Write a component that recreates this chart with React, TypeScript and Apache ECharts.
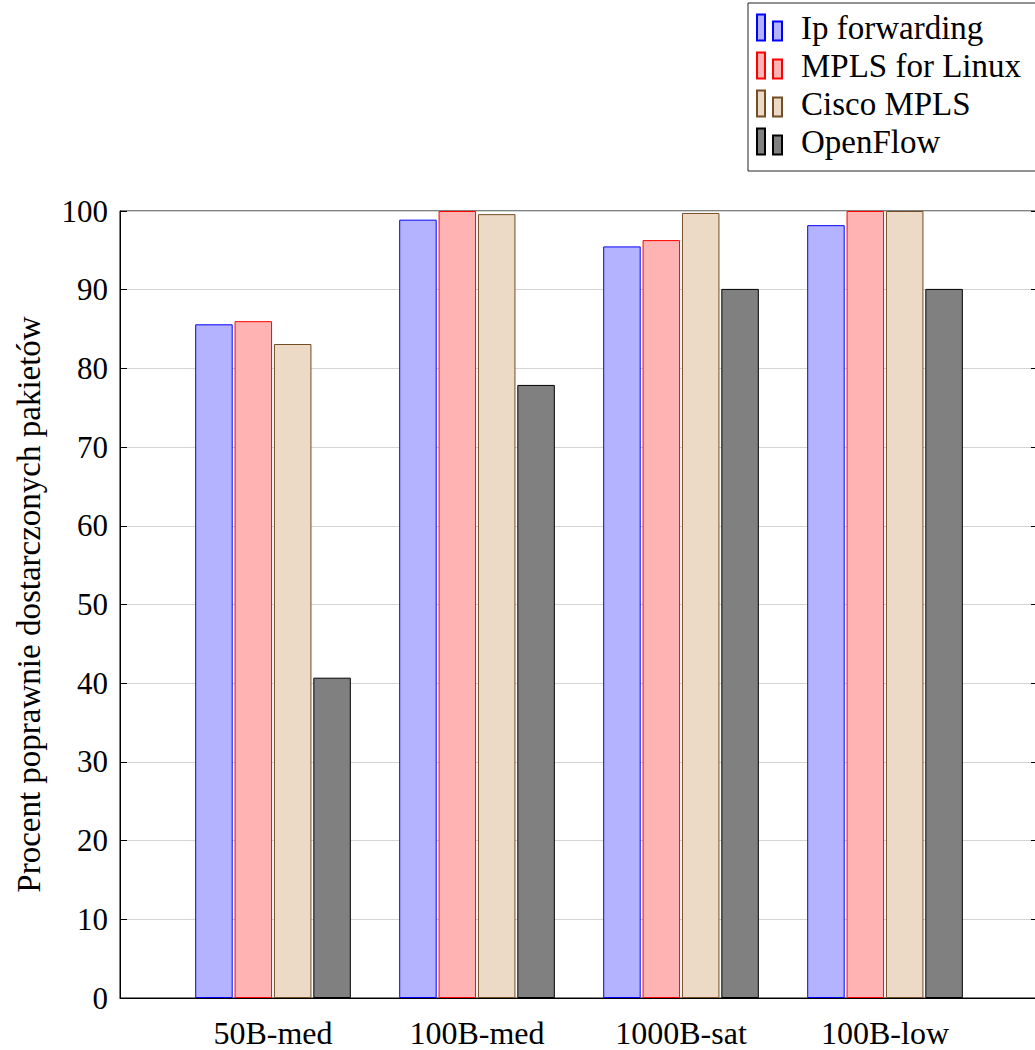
import React, { useEffect, useRef } from "react";
import * as echarts from "echarts";

const categories = ["50B-med", "100B-med", "1000B-sat", "100B-low"];
const seriesNames = ["Ip forwarding", "MPLS for Linux", "Cisco MPLS", "OpenFlow"];
const ipForwarding = [85.6, 98.9, 95.5, 98.2];
const mplsLinux = [86.0, 100, 96.3, 100];
const ciscoMpls = [83.1, 99.6, 99.75, 100];
const openFlow = [40.7, 77.9, 90.1, 90.1];
const yTicks = [0, 10, 20, 30, 40, 50, 60, 70, 80, 90, 100];

const fills = ["#b3b3ff", "#ffb3b3", "#ecd9c6", "#808080"];
const borders = ["#0000ff", "#ff0000", "#734d26", "#000000"];
const FONT = "'Liberation Serif', 'Times New Roman', serif";

// pgfplots-style "enlarge x limits": empty slots between/around the categories
const axisSlots: string[] = [""];
categories.forEach((c) => {
  axisSlots.push(c);
  axisSlots.push("");
});

function spread(values: number[]): (number | string)[] {
  const out: (number | string)[] = ["-"];
  values.forEach((v) => {
    out.push(v);
    out.push("-");
  });
  return out;
}

export default function App() {
  const ref = useRef<HTMLDivElement>(null);
  useEffect(() => {
    document.body.style.margin = "0";
    if (!ref.current) return;
    const chart = echarts.init(ref.current, null, { renderer: "svg" });
    const allData = [ipForwarding, mplsLinux, ciscoMpls, openFlow];
    const icon = "path://M0,0 L8,0 L8,26 L0,26 Z M16,7 L25,7 L25,26 L16,26 Z";
    chart.setOption({
      animation: false,
      textStyle: { fontFamily: FONT },
      grid: {
        left: 120,
        top: 211,
        width: 918,
        height: 787,
        outerBoundsMode: "none",
        containLabel: false,
        show: true,
        borderColor: "#000",
        borderWidth: 1,
        backgroundColor: "transparent",
      },
      legend: {
        orient: "vertical",
        left: 748,
        top: 3,
        backgroundColor: "#fff",
        borderColor: "#222",
        borderWidth: 1,
        padding: [8, 16, 13, 8],
        itemWidth: 25,
        itemHeight: 26,
        itemGap: 5,
        icon,
        textStyle: {
          fontFamily: FONT,
          fontSize: 33,
          color: "#000",
          padding: [0, 0, 0, 14],
        },
        data: seriesNames,
      },
      xAxis: {
        type: "category",
        data: axisSlots,
        boundaryGap: true,
        splitLine: { show: false },
        axisTick: { show: false },
        axisLine: { show: true, lineStyle: { color: "#000", width: 1 } },
        axisLabel: {
          interval: 0,
          fontFamily: FONT,
          fontSize: 32,
          color: "#000",
          margin: 19,
        },
      },
      yAxis: [
        {
          type: "value",
          min: 0,
          max: 100,
          interval: 10,
          name: "Procent poprawnie dostarczonych pakietów",
          nameLocation: "middle",
          nameRotate: 90,
          nameGap: 75,
          nameMoveOverlap: false,
          nameTextStyle: { fontFamily: FONT, fontSize: 33, color: "#000" },
          axisLine: { show: true, onZero: false, lineStyle: { color: "#000", width: 1 } },
          axisTick: { show: true, inside: true, length: 7, lineStyle: { color: "#000" } },
          axisLabel: {
            fontFamily: FONT,
            fontSize: 31,
            color: "#000",
            margin: 12,
            customValues: yTicks,
          },
          splitLine: { show: true, lineStyle: { color: "#d4d4d4", width: 1 } },
        },
        {
          type: "value",
          position: "right",
          min: 0,
          max: 100,
          interval: 10,
          axisLine: { show: true, onZero: false, lineStyle: { color: "#000", width: 1 } },
          axisTick: { show: true, inside: true, length: 7, lineStyle: { color: "#000" } },
          axisLabel: { show: false },
          splitLine: { show: false },
        },
      ],
      series: seriesNames.map((name, si) => ({
        name,
        type: "bar",
        barWidth: 37.5,
        barGap: "5%",
        itemStyle: { color: fills[si], borderColor: borders[si], borderWidth: 1 },
        data: spread(allData[si]),
      })),
    });
    return () => chart.dispose();
  }, []);
  return <div ref={ref} style={{ width: 1035, height: 1050 }} />;
}
